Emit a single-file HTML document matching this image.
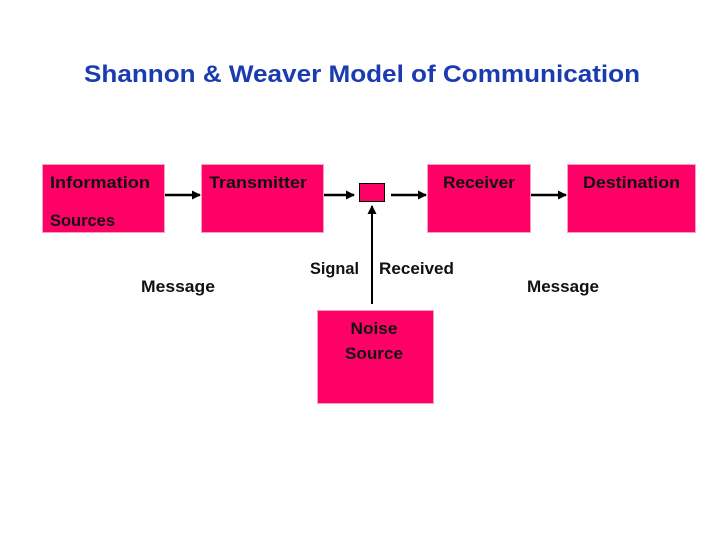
<!DOCTYPE html>
<html><head><style>
body{margin:0;background:#fff;}
svg{display:block}
text{font-family:"Liberation Sans",sans-serif;font-weight:bold;font-size:17px;fill:#111}
</style></head><body>
<svg width="728" height="546" viewBox="0 0 728 546">
<defs><marker id="a" markerWidth="9" markerHeight="9" refX="8" refY="4.5" orient="auto" markerUnits="userSpaceOnUse"><path d="M0,0 L9,4.5 L0,9 z" fill="#000"/></marker></defs>
<text x="362" y="82" text-anchor="middle" style="font-size:24px;fill:#1a3cb0" textLength="556" lengthAdjust="spacingAndGlyphs">Shannon &amp; Weaver Model of Communication</text>
<g fill="#ff0066" stroke="#f7a0c0" stroke-width="1">
<rect x="42.5" y="164.5" width="122" height="68"/>
<rect x="201.5" y="164.5" width="122" height="68"/>
<rect x="427.5" y="164.5" width="103" height="68"/>
<rect x="567.5" y="164.5" width="128" height="68"/>
<rect x="317.5" y="310.5" width="116" height="93"/>
</g>
<rect x="359.5" y="183.5" width="25" height="18" fill="#ff0066" stroke="#000" stroke-width="1"/>
<g stroke="#000" stroke-width="2.5" marker-end="url(#a)">
<line x1="165" y1="195" x2="200" y2="195"/>
<line x1="324" y1="195" x2="354" y2="195"/>
<line x1="391" y1="195" x2="426" y2="195"/>
<line x1="531" y1="195" x2="566" y2="195"/>
</g>
<line x1="372" y1="304" x2="372" y2="206" stroke="#000" stroke-width="2" marker-end="url(#a)"/>
<text x="50" y="188" textLength="100" lengthAdjust="spacingAndGlyphs">Information</text>
<text x="50" y="226" textLength="65" lengthAdjust="spacingAndGlyphs">Sources</text>
<text x="209" y="188" textLength="98" lengthAdjust="spacingAndGlyphs">Transmitter</text>
<text x="443" y="188" textLength="72" lengthAdjust="spacingAndGlyphs">Receiver</text>
<text x="583" y="188" textLength="97" lengthAdjust="spacingAndGlyphs">Destination</text>
<text x="310" y="274" textLength="49" lengthAdjust="spacingAndGlyphs">Signal</text>
<text x="379" y="274" textLength="75" lengthAdjust="spacingAndGlyphs">Received</text>
<text x="141" y="292" textLength="74" lengthAdjust="spacingAndGlyphs">Message</text>
<text x="527" y="292" textLength="72" lengthAdjust="spacingAndGlyphs">Message</text>
<text x="374" y="334" text-anchor="middle" textLength="47" lengthAdjust="spacingAndGlyphs">Noise</text>
<text x="374" y="359" text-anchor="middle" textLength="58" lengthAdjust="spacingAndGlyphs">Source</text>
</svg>
</body></html>
